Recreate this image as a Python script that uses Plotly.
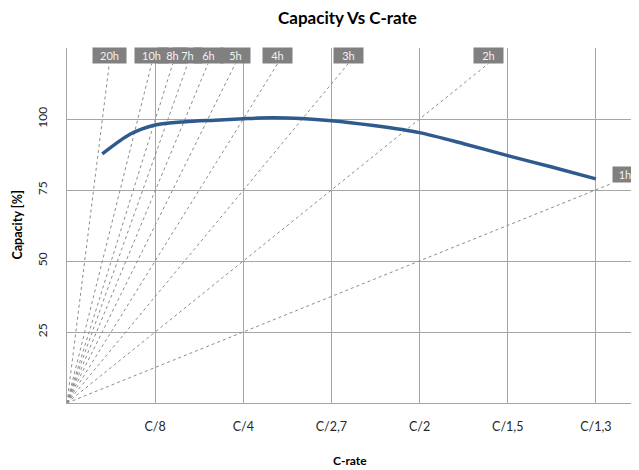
import plotly.graph_objects as go

# Capacity curve (x: C/8 units, y: capacity %)
crate_x = [0.40, 0.72, 1.00, 1.34, 1.68, 2.00, 2.34, 3.00, 3.50, 4.00, 4.50, 5.00, 5.50, 6.00]
capacity = [87.7, 94.7, 97.9, 99.05, 99.6, 100.1, 100.4, 99.4, 97.6, 95.2, 91.3, 87.1, 83.1, 78.9]

# Tick labels
x_tickvals = [1, 2, 3, 4, 5, 6]
x_ticktext = ["C/8", "C/4", "C/2,7", "C/2", "C/1,5", "C/1,3"]
y_tickvals = [25, 50, 75, 100, 125]
y_ticktext = ["25", "50", "75", "100", ""]

# Discharge-time reference lines (from origin to end point)
hour_labels = ["20h", "10h", "8h", "7h", "6h", "5h", "4h", "3h", "2h", "1h"]
hour_end_x = [0.48, 0.96, 1.20, 1.37, 1.60, 1.91, 2.39, 3.19, 4.78, 6.18]
hour_end_y = [119.5, 119.5, 119.5, 119.5, 119.5, 119.5, 119.5, 119.5, 119.5, 77.3]

FONT = "Lato, Calibri, Carlito, sans-serif"
GRID = "#a6a6a6"

# the page body has an 8px margin, so the figure is sized to fill the rest
W, H = 631, 462
ML, MR, MT, MB = 59, 7, 40, 67

fig = go.Figure()

for lab, ex, ey in zip(hour_labels, hour_end_x, hour_end_y):
    fig.add_trace(go.Scatter(
        x=[0, ex], y=[0, ey], mode="lines",
        line=dict(color="#8c8c8c", width=1, dash="3px,3px"),
        hoverinfo="skip", showlegend=False,
    ))

fig.add_trace(go.Scatter(
    x=crate_x, y=capacity, mode="lines",
    line=dict(color="#2f5a8e", width=3.5, shape="spline", smoothing=0.8),
    showlegend=False,
))


def label_kwargs(lab):
    w = 31 if len(lab) == 3 else 27
    if lab == "1h":
        return dict(xanchor="left", yanchor="bottom", width=22, height=13)
    return dict(xanchor="center", yanchor="bottom", width=w, height=13)


# boxes first, then texts on top so overlapping boxes never hide a label
for lab, ex, ey in zip(hour_labels, hour_end_x, hour_end_y):
    fig.add_annotation(x=ex, y=ey, xref="x", yref="y", text=" ", showarrow=False,
                       bgcolor="#808080", borderpad=1,
                       font=dict(family=FONT, size=11, color="#f2f2f2"), **label_kwargs(lab))
for lab, ex, ey in zip(hour_labels, hour_end_x, hour_end_y):
    fig.add_annotation(x=ex, y=ey, xref="x", yref="y", text=lab, showarrow=False,
                       borderpad=1,
                       font=dict(family=FONT, size=11, color="#f2f2f2"), **label_kwargs(lab))

# axis titles
plot_h = H - MT - MB
plot_w = W - ML - MR
fig.add_annotation(x=0.5, y=-(452 - (H - MB)) / plot_h, xref="paper", yref="paper",
                   text="<b>C-rate</b>",
                   showarrow=False, xanchor="center", yanchor="middle",
                   font=dict(family=FONT, size=12, color="#000000"))
fig.add_annotation(x=(9 - ML) / plot_w, y=0.5, xref="paper", yref="paper",
                   text="<b>Capacity [%]</b>",
                   showarrow=False, xanchor="center", yanchor="middle", textangle=-90,
                   font=dict(family=FONT, size=12.5, color="#000000"))

fig.update_layout(
    width=W, height=H,
    paper_bgcolor="white", plot_bgcolor="white",
    margin=dict(l=ML, r=MR, t=MT, b=MB, autoexpand=False),
    font=dict(family=FONT, size=11, color="#262626"),
    title=dict(text="<b>Capacity Vs C-rate</b>", x=339.5 / W, xanchor="center", xref="container",
               y=1 - 10 / H, yref="container", yanchor="middle",
               font=dict(family=FONT, size=17, color="#000000")),
    xaxis=dict(
        range=[0, 6.41], tickvals=x_tickvals, ticktext=x_ticktext,
        showgrid=True, gridcolor=GRID, gridwidth=1.3,
        showline=True, linecolor=GRID, linewidth=1.3,
        zeroline=False, ticks="", ticklabelstandoff=12, automargin=False,
        tickfont=dict(family=FONT, size=12.5, color="#262626"),
    ),
    yaxis=dict(
        range=[0, 125], tickvals=y_tickvals, ticktext=y_ticktext,
        showgrid=True, gridcolor=GRID, gridwidth=1.3,
        showline=True, linecolor=GRID, linewidth=1.3,
        zeroline=False, ticks="", ticklabelstandoff=14, tickangle=-90, automargin=False,
        tickfont=dict(family=FONT, size=12, color="#262626"),
    ),
)

fig.write_html("out.html")
